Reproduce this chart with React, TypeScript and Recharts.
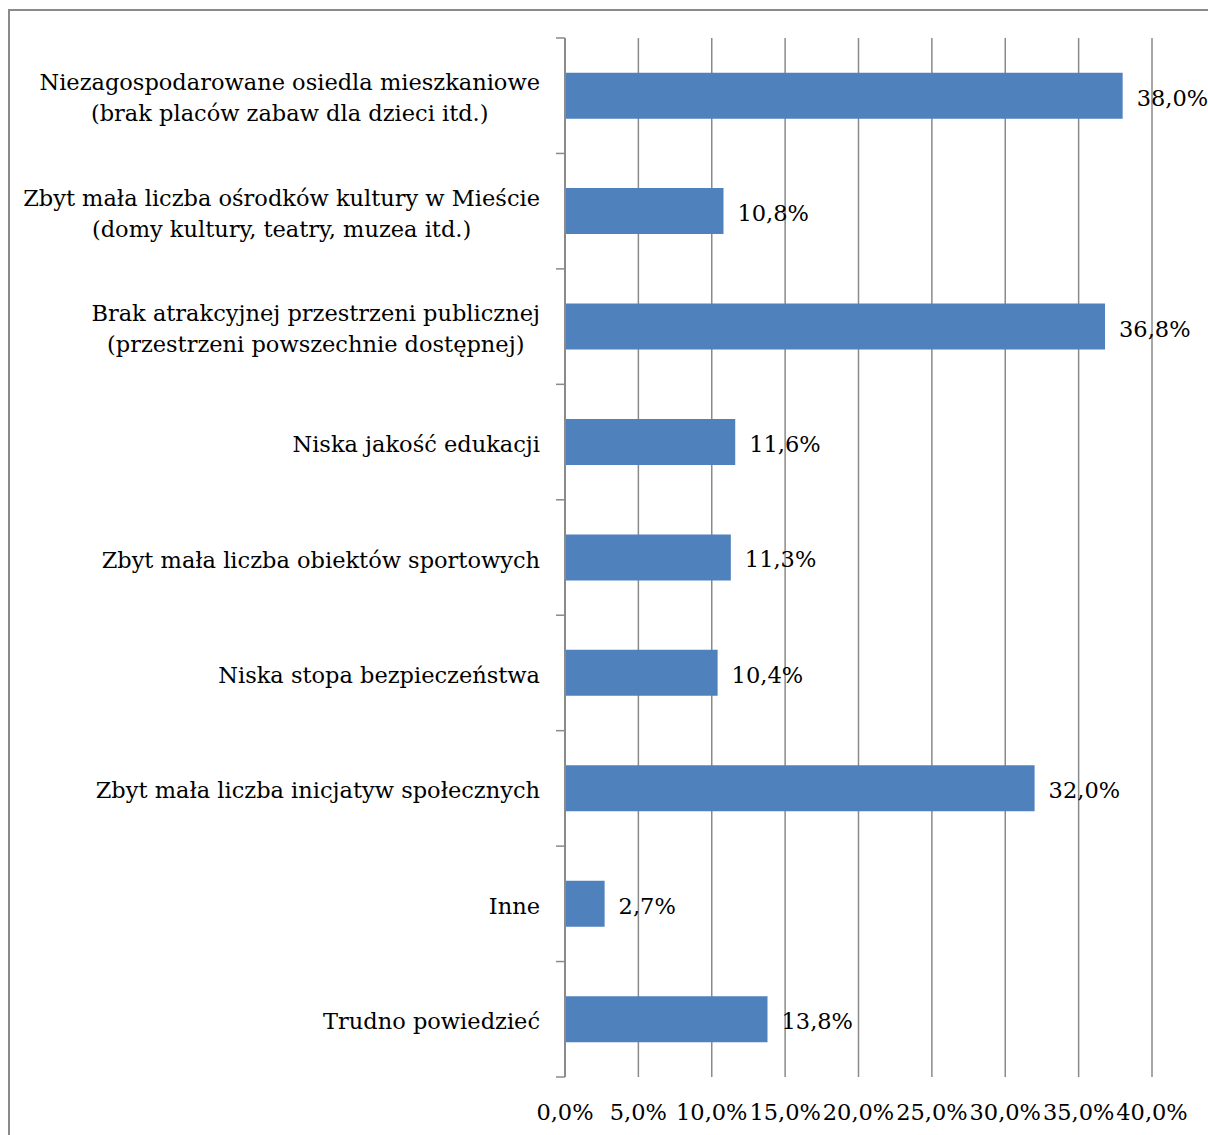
import { BarChart, Bar, XAxis, YAxis, CartesianGrid, LabelList } from "recharts";

const categories = [
  "Niezagospodarowane osiedla mieszkaniowe\n(brak placów zabaw dla dzieci itd.)",
  "Zbyt mała liczba ośrodków kultury w Mieście\n(domy kultury, teatry, muzea itd.)",
  "Brak atrakcyjnej przestrzeni publicznej\n(przestrzeni powszechnie dostępnej)",
  "Niska jakość edukacji",
  "Zbyt mała liczba obiektów sportowych",
  "Niska stopa bezpieczeństwa",
  "Zbyt mała liczba inicjatyw społecznych",
  "Inne",
  "Trudno powiedzieć",
];
const values = [38.0, 10.8, 36.8, 11.6, 11.3, 10.4, 32.0, 2.7, 13.8];
const xTicks = [0, 5, 10, 15, 20, 25, 30, 35, 40];

const FONT = "DejaVu Serif";
const FS = 22.5;
const GRID = "#8a8a8a";

const data = categories.map((name, i) => ({ name, value: values[i] }));

const pct = (v: number) => v.toFixed(1).replace(".", ",") + "%";

let ctx: CanvasRenderingContext2D | null = null;
function textWidth(s: string) {
  if (!ctx) ctx = document.createElement("canvas").getContext("2d");
  if (!ctx) return s.length * FS * 0.55;
  ctx.font = `${FS}px "${FONT}"`;
  return ctx.measureText(s).width;
}

// category label (centered block, right aligned) + tick marks on band boundaries
function CategoryTick(props: any) {
  const { x, y, payload, index } = props;
  const lines: string[] = String(payload.value).split("\n");
  const w = Math.max(...lines.map(textWidth));
  const cx = x - 25 - w / 2;
  const half = payload.offset ?? 0;
  const lh = 31;
  const y0 = y + 2 - ((lines.length - 1) * lh) / 2;
  return (
    <g>
      <line x1={x - 9} x2={x} y1={y - half} y2={y - half} stroke={GRID} strokeWidth={1.5} />
      {index === categories.length - 1 && (
        <line x1={x - 9} x2={x} y1={y + half} y2={y + half} stroke={GRID} strokeWidth={1.5} />
      )}
      {lines.map((l, i) => (
        <text
          key={i}
          x={cx}
          y={y0 + i * lh}
          textAnchor="middle"
          dominantBaseline="central"
          fontFamily={FONT}
          fontSize={FS}
          fill="#000"
        >
          {l}
        </text>
      ))}
    </g>
  );
}

export default function App() {
  return (
    <div style={{ position: "absolute", left: 0, top: 0, width: 1208, height: 1135, overflow: "hidden", background: "#fff" }}>
      <div
        style={{
          position: "absolute",
          left: 8,
          top: 9,
          width: 1400,
          height: 1400,
          border: `2px solid ${GRID}`,
        }}
      />
      <div style={{ position: "absolute", left: 0, top: 0 }}>
        <BarChart
          width={1208}
          height={1135}
          layout="vertical"
          data={data}
          margin={{ top: 38, right: 56, bottom: 0, left: 10 }}
          barCategoryGap="30%"
        >
          <CartesianGrid horizontal={false} stroke={GRID} strokeWidth={1.5} />
          <XAxis
            type="number"
            domain={[0, 40]}
            ticks={xTicks}
            height={58}
            axisLine={false}
            tickLine={false}
            tickSize={0}
            tickMargin={27}
            tickFormatter={pct}
            tick={{ fontFamily: FONT, fontSize: FS, fill: "#000" }}
          />
          <XAxis
            xAxisId="top"
            orientation="top"
            type="number"
            domain={[0, 40]}
            ticks={xTicks}
            height={0}
            axisLine={{ stroke: GRID, strokeWidth: 1.5 }}
            tickLine={{ stroke: GRID, strokeWidth: 1.5 }}
            tickSize={8}
            tick={() => <g />}
          />
          <YAxis
            type="category"
            dataKey="name"
            width={555}
            axisLine={{ stroke: GRID, strokeWidth: 2 }}
            tickLine={false}
            tickSize={0}
            tickMargin={0}
            interval={0}
            tick={<CategoryTick />}
          />
          <Bar dataKey="value" fill="#4f81bd" isAnimationActive={false}>
            <LabelList
              dataKey="value"
              position="right"
              offset={14}
              formatter={(v: any) => pct(Number(v))}
              fontFamily={FONT}
              fontSize={FS}
              fill="#000"
              dy={2}
            />
          </Bar>
        </BarChart>
      </div>
    </div>
  );
}
